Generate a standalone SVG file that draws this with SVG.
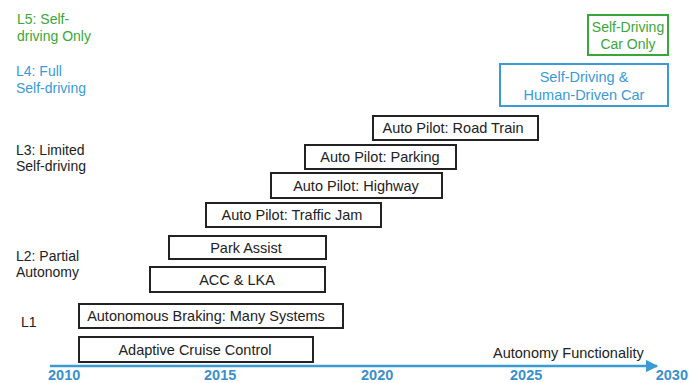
<svg xmlns="http://www.w3.org/2000/svg" width="689" height="383" viewBox="0 0 689 383">
<style>
text{font-family:"Liberation Sans",Arial,sans-serif;font-size:14.5px;fill:#222}
.lab{font-size:14px}
.box{fill:#fff;stroke:#222;stroke-width:2}
.c{text-anchor:middle}
.g{fill:#3aa63a}
.b{fill:#3a9ad4}
.yr{font-weight:bold;fill:#3a8fcc;font-size:14.5px}
</style>
<defs>
<marker id="ah" viewBox="0 0 10 10" refX="9" refY="5" markerWidth="5" markerHeight="5" orient="auto"><path d="M0,0 L10,5 L0,10 z" fill="#3a9ad4"/></marker>
</defs>
<rect width="689" height="383" fill="#fff"/>
<g id="labels">
<text class="lab g" x="17" y="24">L5: Self-</text>
<text class="lab g" x="17" y="41">driving Only</text>
<text class="lab b" x="16" y="76">L4: Full</text>
<text class="lab b" x="16" y="93">Self-driving</text>
<text class="lab" x="16" y="155">L3: Limited</text>
<text class="lab" x="16" y="171">Self-driving</text>
<text class="lab" x="16" y="261">L2: Partial</text>
<text class="lab" x="16" y="277">Autonomy</text>
<text class="lab" x="21" y="327">L1</text>
</g>
<g id="connectors">
<line x1="50" y1="366" x2="657" y2="366" stroke="#3a9ad4" stroke-width="2.5" marker-end="url(#ah)"/>
</g>
<g id="axis">
<text x="493" y="358">Autonomy Functionality</text>
<text class="yr" x="48" y="380">2010</text>
<text class="yr" x="204" y="380">2015</text>
<text class="yr" x="361" y="380">2020</text>
<text class="yr" x="510" y="380">2025</text>
<text class="yr" x="688" y="380" text-anchor="end">2030</text>
</g>
<g id="n-sdco"><rect x="588" y="15" width="80" height="40" fill="#fff" stroke="#3aa63a" stroke-width="2"/><text class="c g" x="628" y="32" style="font-size:14px">Self-Driving</text><text class="c g" x="628" y="49" style="font-size:14px">Car Only</text></g>
<g id="n-sdhd"><rect x="500" y="64" width="168" height="42" fill="#fff" stroke="#3a9ad4" stroke-width="2"/><text class="c b" x="584" y="82">Self-Driving &amp;</text><text class="c b" x="584" y="100">Human-Driven Car</text></g>
<g id="n-road"><rect class="box" x="373" y="116" width="165" height="24"/><text class="c" x="453" y="133">Auto Pilot: Road Train</text></g>
<g id="n-park"><rect class="box" x="305" y="145" width="151" height="24"/><text class="c" x="380" y="162">Auto Pilot: Parking</text></g>
<g id="n-hwy"><rect class="box" x="271" y="173" width="171" height="25"/><text class="c" x="356" y="191">Auto Pilot: Highway</text></g>
<g id="n-tj"><rect class="box" x="206" y="203" width="175" height="24"/><text class="c" x="292" y="220">Auto Pilot: Traffic Jam</text></g>
<g id="n-pa"><rect class="box" x="169" y="236" width="157" height="23"/><text class="c" x="246" y="253">Park Assist</text></g>
<g id="n-acc"><rect class="box" x="150" y="267" width="175" height="25"/><text class="c" x="237" y="285">ACC &amp; LKA</text></g>
<g id="n-ab"><rect class="box" x="79" y="304" width="264" height="24"/><text class="c" x="206" y="321">Autonomous Braking: Many Systems</text></g>
<g id="n-acc2"><rect class="box" x="79" y="337" width="234" height="25"/><text class="c" x="195" y="355">Adaptive Cruise Control</text></g>
</svg>
